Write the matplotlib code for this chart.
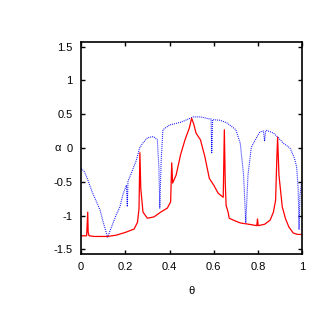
import numpy as np
import matplotlib.pyplot as plt

plt.rcParams['font.family'] = ['Liberation Sans', 'DejaVu Sans']

# red curve (solid)
theta_red = [0.0, 0.025, 0.030, 0.032, 0.036, 0.06, 0.12, 0.16, 0.20, 0.24, 0.255, 0.262,
             0.266, 0.270, 0.28, 0.30, 0.33, 0.36, 0.39, 0.405, 0.410, 0.414, 0.43,
             0.45, 0.47, 0.49, 0.50, 0.51, 0.52, 0.54, 0.56, 0.58, 0.60, 0.62, 0.643,
             0.648, 0.652, 0.656, 0.665, 0.67, 0.69, 0.72, 0.76, 0.795, 0.798, 0.801,
             0.83, 0.855, 0.87, 0.88, 0.885, 0.889, 0.895, 0.91, 0.925, 0.94, 0.96, 0.98, 1.0]
alpha_red = [-1.30, -1.30, -0.95, -1.25, -1.30, -1.31, -1.31, -1.29, -1.25, -1.20, -1.10, -0.90,
             -0.07, -0.60, -0.95, -1.04, -1.02, -0.95, -0.89, -0.80, -0.22, -0.52, -0.40,
             -0.10, 0.12, 0.30, 0.44, 0.35, 0.22, 0.12, -0.13, -0.45, -0.55, -0.67, -0.73,
             0.27, -0.50, -0.85, -0.95, -1.04, -1.07, -1.11, -1.13, -1.15, -1.05, -1.15,
             -1.13, -1.07, -0.95, -0.77, -0.20, 0.16, -0.40, -0.87, -1.05, -1.17, -1.26, -1.28, -1.28]

# blue curve (dotted)
theta_blue = [0.0, 0.015, 0.03, 0.05, 0.07, 0.086, 0.10, 0.12, 0.14, 0.16, 0.176, 0.19,
              0.205, 0.209, 0.212, 0.215, 0.23, 0.25, 0.265, 0.276, 0.30, 0.327, 0.345,
              0.352, 0.356, 0.362, 0.37, 0.40, 0.45, 0.48, 0.505, 0.54, 0.58, 0.588,
              0.591, 0.595, 0.63, 0.66, 0.70, 0.72, 0.735, 0.745, 0.755, 0.77, 0.80,
              0.81, 0.825, 0.83, 0.835, 0.84, 0.87, 0.89, 0.915, 0.945, 0.965, 0.975,
              0.982, 0.986, 0.99, 1.0]
alpha_blue = [-0.30, -0.35, -0.47, -0.65, -0.80, -0.92, -1.10, -1.32, -1.15, -0.98, -0.87, -0.68,
              -0.55, -0.87, -0.50, -0.47, -0.35, -0.18, 0.00, 0.06, 0.15, 0.17, 0.12,
              -0.30, -0.89, -0.20, 0.27, 0.34, 0.38, 0.42, 0.46, 0.46, 0.43, 0.43,
              -0.07, 0.42, 0.41, 0.37, 0.27, 0.07, -0.40, -1.11, -0.40, 0.01, 0.19,
              0.24, 0.25, 0.10, 0.25, 0.26, 0.22, 0.16, 0.07, 0.00, -0.15, -0.28,
              -0.60, -1.21, -0.70, -0.45]

x_ticks = [0, 0.2, 0.4, 0.6, 0.8, 1]
x_labels = ["0", "0.2", "0.4", "0.6", "0.8", "1"]
y_ticks = [-1.5, -1, -0.5, 0, 0.5, 1, 1.5]
y_labels = ["-1.5", "-1", "-0.5", "0", "0.5", "1", "1.5"]

fig = plt.figure(figsize=(3.27, 3.27), dpi=100)
ax = fig.add_axes([0.248, 0.223, 0.676, 0.649])

ax.plot(theta_blue, alpha_blue, color="#0000ff", linestyle=(0, (0.8, 1.0)), linewidth=0.8)
ax.plot(theta_red, alpha_red, color="#ff0000", linewidth=0.9)

ax.set_xlim(0, 1)
ax.set_ylim(-np.pi / 2, np.pi / 2)
ax.set_xticks(x_ticks)
ax.set_xticklabels(x_labels)
ax.set_yticks(y_ticks)
ax.set_yticklabels(y_labels)
ax.tick_params(direction="in", top=True, right=True, length=3, width=1, labelsize=8, pad=6)
for s in ax.spines.values():
    s.set_linewidth(1.2)

ax.set_xlabel("θ", fontsize=8)
ax.set_ylabel("α", fontsize=8, rotation=0, va="center", ha="center")
ax.xaxis.set_label_coords(0.5, -0.15)
ax.yaxis.set_label_coords(-0.104, 0.5)

plt.savefig("out.png", dpi=100)
